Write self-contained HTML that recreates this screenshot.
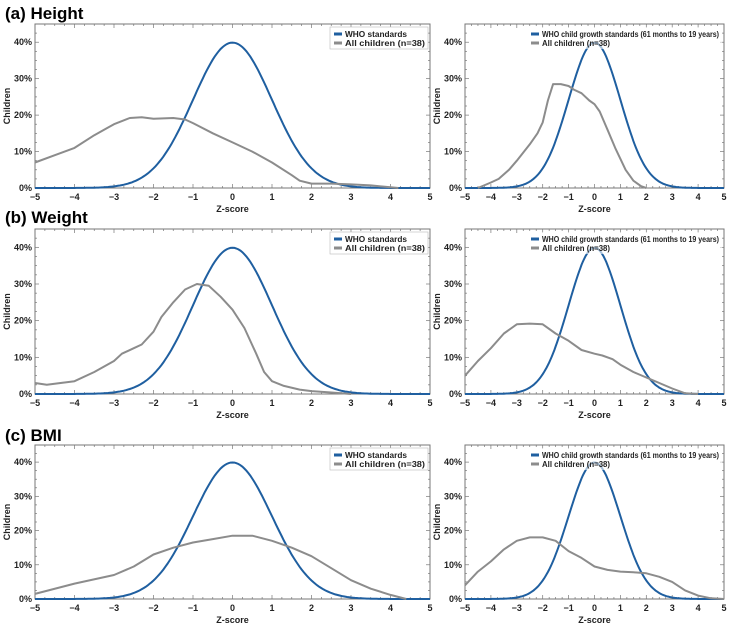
<!DOCTYPE html>
<html><head><meta charset="utf-8"><style>
body{margin:0;background:#fff;}
svg{display:block;font-family:"Liberation Sans",sans-serif;}
</style></head><body>
<svg id="c" width="731" height="626" viewBox="0 0 731 626">
<text x="5" y="19" font-size="17" font-weight="bold">(a) Height</text>
<text x="5" y="223" font-size="17" font-weight="bold">(b) Weight</text>
<text x="5" y="441" font-size="17" font-weight="bold">(c) BMI</text>
</svg>
<script>
const xTicks=[-5,-4,-3,-2,-1,0,1,2,3,4,5];
const yTicks=[0,10,20,30,40];
const aLx=[-5,-4.5,-4,-3.5,-3,-2.6,-2.3,-2,-1.5,-1.2,-1,-0.5,0,0.5,1,1.5,1.7,2,2.5,3,3.5,4,4.2];
const aLy=[7,9,11,14.5,17.5,19.2,19.4,19,19.2,18.8,17.8,15,12.5,10,7,3.5,2,1.2,1.2,1,0.7,0.2,0];
const aRx=[-4.5,-4,-3.7,-3.3,-3,-2.5,-2.2,-2,-1.8,-1.6,-1.3,-1,-0.8,-0.5,-0.2,0,0.2,0.5,0.8,1.2,1.5,1.8,2];
const aRy=[0,1.5,2.5,5,7.5,12,15,18,24,28.5,28.5,28,27,26,24,23,21,16,11,5,2,0.5,0];
const bLx=[-5,-4.7,-4,-3.5,-3,-2.8,-2.5,-2.3,-2,-1.8,-1.5,-1.2,-0.9,-0.6,-0.3,0,0.3,0.6,0.8,1,1.3,1.7,2,2.5,3];
const bLy=[3,2.5,3.5,6,9,11,12.5,13.5,17,21,25,28.5,30,29.5,26.5,23,18,11,6,3.5,2.2,1.2,0.8,0.4,0];
const bRx=[-5,-4.5,-4,-3.5,-3,-2.5,-2,-1.5,-1,-0.5,0,0.3,0.7,1,1.5,2,2.5,3,3.5,4];
const bRy=[5,9,12.5,16.5,19,19.2,19,16.5,14.5,12,11,10.5,9.5,8,6,4.5,3,1.5,0.2,0];
const cLx=[-5,-4,-3,-2.5,-2,-1.5,-1,-0.5,0,0.5,1,1.5,2,2.5,3,3.5,4,4.4];
const cLy=[1.5,4.5,7,9.5,13,15,16.5,17.5,18.5,18.5,17,15,12.5,9,5.5,3,1.2,0];
const cRx=[-5,-4.5,-4,-3.5,-3,-2.5,-2,-1.5,-1,-0.5,0,0.5,1,1.5,2,2.5,3,3.5,4,4.5,5];
const cRy=[4,8,11,14.5,17,18,18,17,14,12,9.5,8.5,8,7.8,7.5,6.5,5,2.5,1,0.2,0];
const leftLegend=["WHO standards","All children (n=38)"];
const rightLegend=["WHO child growth standards (61 months to 19 years)","All children (n=38)"];
const NS="http://www.w3.org/2000/svg";
const svg=document.getElementById('c');
function mk(t,a,p){const e=document.createElementNS(NS,t);for(const k in a)e.setAttribute(k,a[k]);(p||svg).appendChild(e);return e;}
function panel(name,x0,x1,top,bot,gx,gy,legend,right){
  const g=mk('g',{});
  
  
  const sx=v=>x0+(v+5)/10*(x1-x0);
  const sy=v=>bot-v/45*(bot-top);
  const fr=mk('rect',{x:x0,y:top,width:x1-x0,height:bot-top,fill:'none',stroke:'#777','stroke-width':1},g);
  
  
  for(let v=-5;v<=5.001;v+=0.25){const X=sx(v);const L=Math.abs(v-Math.round(v))<0.01?4:2;
    mk('line',{x1:X,x2:X,y1:bot,y2:bot-L,stroke:'#777','stroke-width':0.7},g);
    mk('line',{x1:X,x2:X,y1:top,y2:top+L,stroke:'#777','stroke-width':0.7},g);}
  for(let v=0;v<=45.001;v+=2.5){const Y=sy(v);const L=(v%10==0)?4:2;
    mk('line',{x1:x0,x2:x0+L,y1:Y,y2:Y,stroke:'#777','stroke-width':0.7},g);
    mk('line',{x1:x1,x2:x1-L,y1:Y,y2:Y,stroke:'#777','stroke-width':0.7},g);}
  xTicks.forEach(v=>{const t=mk('text',{x:sx(v),y:bot+12,'font-size':9,'font-weight':'bold','text-anchor':'middle',fill:'#222'},g);t.textContent=(v<0?'\u2212'+(-v):v);
    
    });
  yTicks.forEach(v=>{const t=mk('text',{x:x0-3,y:sy(v)+3,'font-size':9,'font-weight':'bold','text-anchor':'end',fill:'#222'},g);t.textContent=v+'%';
    
    });
  const xt=mk('text',{x:(x0+x1)/2,y:bot+24,'font-size':9,'font-weight':'bold','text-anchor':'middle',fill:'#222'},g);xt.textContent='Z-score';
  
  
  const yc=(top+bot)/2, yx=x0-25;
  const yt=mk('text',{x:yx,y:yc,'font-size':9,'font-weight':'bold','text-anchor':'middle',fill:'#222',transform:`rotate(-90 ${yx} ${yc})`},g);yt.textContent='Children';
  
  
  let d='';for(let v=-5;v<=5.0001;v+=0.05){const p=100*Math.exp(-v*v/2)/Math.sqrt(2*Math.PI);d+=(d?'L':'M')+sx(v).toFixed(1)+','+sy(p).toFixed(1);}
  const who=mk('path',{d,fill:'none',stroke:'#1f5fa0','stroke-width':2},g);
  
  
  let d2='';gx.forEach((v,i)=>{d2+=(i?'L':'M')+sx(v).toFixed(1)+','+sy(gy[i]).toFixed(1);});
  const gc=mk('path',{d:d2,fill:'none',stroke:'#8c8c8c','stroke-width':2,'stroke-linejoin':'round'},g);
  
  
  const lg=mk('g',{},g);
  
  
  const lx=right?x0+62:x1-100, lw=right?x1-2-lx:98, ly=top+3;
  mk('rect',{x:lx,y:ly,width:lw,height:22,fill:'#fff','fill-opacity':right?0.6:1,stroke:right?'none':'#bbb','stroke-width':0.6},lg);
  [['#1f5fa0',legend[0]],['#8c8c8c',legend[1]]].forEach((e,i)=>{
    mk('line',{x1:lx+4,x2:lx+12,y1:ly+7+i*9,y2:ly+7+i*9,stroke:e[0],'stroke-width':3},lg);
    const a={x:lx+15,y:ly+10+i*9,'font-size':8,'font-weight':'bold',fill:'#222'};
    if(right&&i==0){a.textLength=lw-18;a.lengthAdjust='spacingAndGlyphs';}
    if(right&&i==1){a.textLength=68;a.lengthAdjust='spacingAndGlyphs';}
    if(!right){a.textLength=i==0?62:80;a.lengthAdjust='spacingAndGlyphs';}
    const t=mk('text',a,lg);t.textContent=e[1];
    
    });
}
panel('height-all-children',35,430,24,188,aLx,aLy,leftLegend,false);
panel('height-61m-19y',465,724,24,188,aRx,aRy,rightLegend,true);
panel('weight-all-children',35,430,229,394,bLx,bLy,leftLegend,false);
panel('weight-61m-19y',465,724,229,394,bRx,bRy,rightLegend,true);
panel('bmi-all-children',35,430,445,599,cLx,cLy,leftLegend,false);
panel('bmi-61m-19y',465,724,445,599,cRx,cRy,rightLegend,true);
</script>
</body></html>
